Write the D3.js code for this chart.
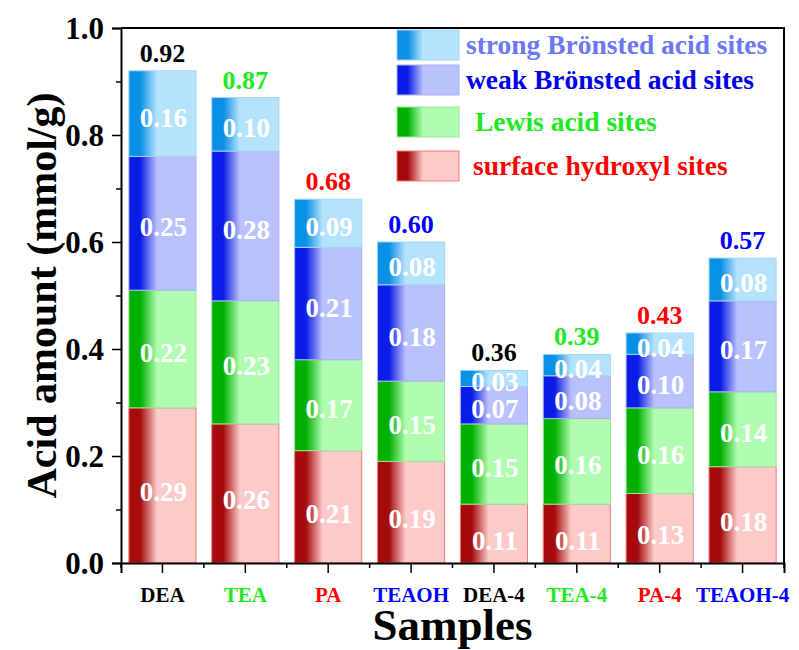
<!DOCTYPE html>
<html>
    <head>
        <meta charset="utf-8">
        <script src="https://cdn.jsdelivr.net/npm/d3@7"></script>
    </head>
    <style>
        body { margin: 0; background: #fff; }
        text { font-family: "Liberation Serif", "Times New Roman", serif; font-weight: bold; }
    </style>
    <body>
        <div id="canvas"></div>
        <script>
            // samples on the x axis
            var samples = ['DEA', 'TEA', 'PA', 'TEAOH', 'DEA-4', 'TEA-4', 'PA-4', 'TEAOH-4'];
            // acid amount per site type (mmol/g)
            var hydroxyl = [0.29, 0.26, 0.21, 0.19, 0.11, 0.11, 0.13, 0.18];
            var lewis    = [0.22, 0.23, 0.17, 0.15, 0.15, 0.16, 0.16, 0.14];
            var weakB    = [0.25, 0.28, 0.21, 0.18, 0.07, 0.08, 0.10, 0.17];
            var strongB  = [0.16, 0.10, 0.09, 0.08, 0.03, 0.04, 0.04, 0.08];
            var totals   = [0.92, 0.87, 0.68, 0.60, 0.36, 0.39, 0.43, 0.57];
            var yTicks = [0, 0.2, 0.4, 0.6, 0.8, 1.0];
            var seriesNames = ['surface hydroxyl sites', 'Lewis acid sites', 'weak Brönsted acid sites', 'strong Brönsted acid sites'];

            const w = 799;
            const h = 650;
            const plotL = 121, plotR = 784, plotT = 28, plotB = 563;

            // per-series colours: dark edge, light fill, outline, legend text
            const seriesStyle = [
                { dark: '#a50b0b', light: '#fdcaca', line: '#f27a7a', text: '#ff0000' },
                { dark: '#00b000', light: '#b0fcb0', line: '#9be89b', text: '#1ee81e' },
                { dark: '#0a1ce6', light: '#b9c1fc', line: '#a9b2f0', text: '#0000e8' },
                { dark: '#0a8fe6', light: '#b6e3fc', line: '#a3d6f2', text: '#6b78f2' }
            ];
            const sampleColors = ['#000000', '#1ee81e', '#ff0000', '#0000ff'];

            const svg = d3.select('#canvas')
                .append('svg')
                .attr('width', w)
                .attr('height', h);

            const defs = svg.append('defs');
            seriesStyle.forEach((s, i) => {
                const g = defs.append('linearGradient')
                    .attr('id', 'grad' + i)
                    .attr('x1', '0%').attr('x2', '100%')
                    .attr('y1', '0%').attr('y2', '0%');
                g.append('stop').attr('offset', '0%').attr('stop-color', s.dark);
                g.append('stop').attr('offset', '17%').attr('stop-color', s.dark);
                g.append('stop').attr('offset', '42%').attr('stop-color', s.light);
                g.append('stop').attr('offset', '100%').attr('stop-color', s.light);
            });

            const x = d3.scaleBand()
                .domain(samples)
                .range([plotL, plotR])
                .paddingInner(0.19)
                .paddingOuter(0.095);

            const y = d3.scaleLinear()
                .domain([0, 1.0])
                .range([plotB, plotT]);

            // build stack
            const table = samples.map((s, i) => ({
                sample: s, hydroxyl: hydroxyl[i], lewis: lewis[i], weakB: weakB[i], strongB: strongB[i]
            }));
            const stacked = d3.stack().keys(['hydroxyl', 'lewis', 'weakB', 'strongB'])(table);

            stacked.forEach((layer, li) => {
                const g = svg.append('g');
                g.selectAll('rect')
                    .data(layer)
                    .enter()
                    .append('rect')
                    .attr('x', d => x(d.data.sample))
                    .attr('y', d => y(d[1]))
                    .attr('width', x.bandwidth())
                    .attr('height', d => y(d[0]) - y(d[1]))
                    .attr('fill', 'url(#grad' + li + ')')
                    .attr('stroke', seriesStyle[li].line)
                    .attr('stroke-width', 1);
            });

            // value labels inside segments
            stacked.forEach((layer, li) => {
                svg.append('g').selectAll('text')
                    .data(layer)
                    .enter()
                    .append('text')
                    .attr('x', d => x(d.data.sample) + x.bandwidth() / 2 + 1)
                    .attr('y', d => (y(d[0]) + y(d[1])) / 2 + (li === 0 ? 16 : 13))
                    .attr('text-anchor', 'middle')
                    .attr('font-size', '27px')
                    .attr('fill', '#fff')
                    .text(d => (d[1] - d[0]).toFixed(2));
            });

            // totals above bars
            svg.append('g').selectAll('text')
                .data(totals)
                .enter()
                .append('text')
                .attr('x', (d, i) => x(samples[i]) + x.bandwidth() / 2)
                .attr('y', d => y(d) - 9)
                .attr('text-anchor', 'middle')
                .attr('font-size', '26px')
                .attr('fill', (d, i) => sampleColors[i % 4])
                .text(d => d.toFixed(2));

            // frame
            svg.append('path')
                .attr('d', `M${plotL},${plotT}H${plotR}V${plotB}`)
                .attr('fill', 'none')
                .attr('stroke', '#000')
                .attr('stroke-width', 2);

            // y axis
            const yAxis = svg.append('g')
                .attr('transform', `translate(${plotL},0)`)
                .call(d3.axisLeft(y).tickValues(yTicks).tickFormat(d3.format('.1f')).tickSizeOuter(0).tickSize(9).tickPadding(8));
            yAxis.select('.domain').attr('stroke-width', 2);
            yAxis.selectAll('.tick line').attr('stroke-width', 1.5);
            yAxis.selectAll('.tick text')
                .attr('font-size', '31px')
                .attr('fill', '#000')
                .attr('dy', '0.33em');
            svg.append('g').attr('transform', `translate(${plotL},0)`)
                .call(d3.axisLeft(y).tickValues([0.1, 0.3, 0.5, 0.7, 0.9]).tickFormat('').tickSize(5).tickSizeOuter(0))
                .call(g => g.select('.domain').remove())
                .selectAll('.tick line').attr('stroke-width', 1.5);

            // x axis
            const xAxis = svg.append('g')
                .attr('transform', `translate(0,${plotB})`)
                .call(d3.axisBottom(x).tickSizeOuter(0).tickSize(10).tickPadding(14));
            xAxis.select('.domain').attr('stroke-width', 2);
            xAxis.selectAll('.tick line').attr('stroke-width', 1.5);
            xAxis.selectAll('.tick text')
                .attr('font-size', '21px')
                .attr('fill', (d, i) => sampleColors[i % 4]);
            // minor ticks at category boundaries
            const boundaries = d3.range(samples.length + 1).map(i => plotL + i * x.step());
            svg.append('g').selectAll('line')
                .data(boundaries)
                .enter()
                .append('line')
                .attr('x1', d => d).attr('x2', d => d)
                .attr('y1', plotB).attr('y2', plotB + 5)
                .attr('stroke', '#000')
                .attr('stroke-width', 1.5);

            // axis titles
            svg.append('text')
                .attr('x', (plotL + plotR) / 2)
                .attr('y', 640)
                .attr('text-anchor', 'middle')
                .attr('font-size', '45px')
                .text('Samples');
            svg.append('text')
                .attr('transform', `translate(56,${(plotT + plotB) / 2}) rotate(-90)`)
                .attr('text-anchor', 'middle')
                .attr('font-size', '42px')
                .text('Acid amount (mmol/g)');

            // legend (top item = strong Brönsted)
            const legendOrder = [3, 2, 1, 0];
            const legendTop = [30, 65, 107, 151];
            const legendTextX = [466, 466, 475, 473];
            const legend = svg.append('g').selectAll('g')
                .data(legendOrder)
                .enter()
                .append('g');
            legend.append('rect')
                .attr('x', 397)
                .attr('y', (d, i) => legendTop[i])
                .attr('width', 62)
                .attr('height', 30)
                .attr('fill', d => 'url(#grad' + d + ')')
                .attr('stroke', d => seriesStyle[d].line)
                .attr('stroke-width', 1);
            legend.append('text')
                .attr('x', (d, i) => legendTextX[i])
                .attr('y', (d, i) => legendTop[i] + 24)
                .attr('font-size', '27.5px')
                .attr('fill', d => seriesStyle[d].text)
                .text(d => seriesNames[d]);
        </script>
    </body>
</html>
